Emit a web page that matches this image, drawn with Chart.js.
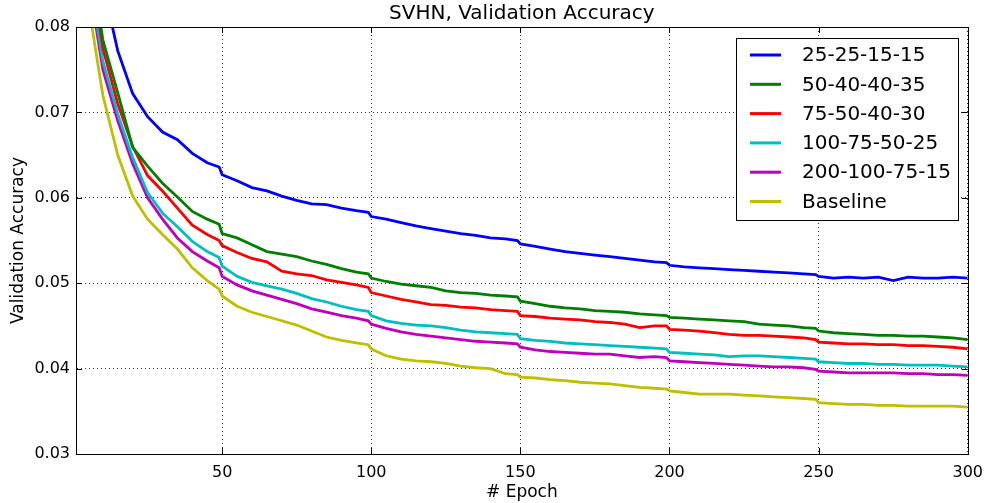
<!DOCTYPE html>
<html>
<head>
<meta charset="utf-8">
<title>SVHN, Validation Accuracy</title>
<script src="https://cdn.jsdelivr.net/npm/chart.js@4.4.0/dist/chart.umd.min.js"></script>
<style>
  html, body { margin: 0; padding: 0; background: #fff; }
  #wrap { width: 992px; height: 503px; }
</style>
</head>
<body>
<div id="wrap"><canvas id="chart" width="992" height="503"></canvas></div>
<script>
// epochs (extra point just before each lr drop)
var epochs = [2,5,10,15,20,25,30,35,40,45,49,50,55,60,65,70,75,80,85,90,95,99,100,
  105,110,115,120,125,130,135,140,145,149,150,155,160,165,170,175,180,185,190,195,199,200,
  205,210,215,220,225,230,235,240,245,249,250,255,260,265,270,275,280,285,290,295,300];

var labels = ['25-25-15-15', '50-40-40-35', '75-50-40-30', '100-75-50-25', '200-100-75-15', 'Baseline'];
var colors = ['#0000ff', '#008000', '#ff0000', '#00bfbf', '#bf00bf', '#bfbf00'];

var acc_25 = [0.115,0.098,0.085,0.0772,0.0722,0.0695,0.0677,0.0668,0.0652,0.0641,0.0636,0.0627,0.0620,0.0612,0.0608,0.0602,0.0597,0.0593,0.0592,0.0588,0.0585,0.0583,0.0578,
  0.0575,0.0571,0.0567,0.0564,0.0561,0.0558,0.0556,0.0553,0.0552,0.0550,0.0546,0.0543,0.0540,0.0537,0.0535,0.0533,0.0531,0.0529,0.0527,0.0525,0.0524,0.0521,
  0.0519,0.0518,0.0517,0.0516,0.0515,0.0514,0.0513,0.0512,0.0511,0.0510,0.0508,0.0506,0.0507,0.0506,0.0507,0.0503,0.0507,0.0506,0.0506,0.0507,0.0506];
var acc_50 = [0.105,0.090,0.0785,0.0723,0.0659,0.0637,0.0617,0.0601,0.0584,0.0575,0.0569,0.0558,0.0553,0.0545,0.0537,0.0534,0.0531,0.0526,0.0522,0.0517,0.0513,0.0511,0.0506,
  0.0502,0.0499,0.0497,0.0495,0.0491,0.0489,0.0488,0.0486,0.0485,0.0484,0.0479,0.0476,0.0473,0.0471,0.0470,0.0468,0.0467,0.0466,0.0464,0.0463,0.0462,0.0460,
  0.0459,0.0458,0.0457,0.0456,0.0455,0.0452,0.0451,0.0450,0.0448,0.0447,0.0444,0.0442,0.0441,0.0440,0.0439,0.0439,0.0438,0.0438,0.0437,0.0436,0.0434];
var acc_75 = [0.103,0.089,0.0775,0.0710,0.0660,0.0626,0.0608,0.0588,0.0568,0.0557,0.0550,0.0544,0.0536,0.0529,0.0525,0.0514,0.0511,0.0509,0.0504,0.0501,0.0498,0.0495,0.0489,
  0.0485,0.0481,0.0478,0.0475,0.0474,0.0472,0.0471,0.0469,0.0468,0.0467,0.0462,0.0461,0.0459,0.0458,0.0457,0.0455,0.0454,0.0452,0.0448,0.0450,0.0450,0.0446,
  0.0445,0.0444,0.0442,0.0440,0.0439,0.0439,0.0438,0.0437,0.0436,0.0434,0.0431,0.0430,0.0429,0.0429,0.0428,0.0428,0.0427,0.0427,0.0426,0.0425,0.0423];
var acc_100 = [0.100,0.087,0.0760,0.0698,0.0647,0.0606,0.0582,0.0566,0.0549,0.0537,0.0530,0.0520,0.0508,0.0501,0.0497,0.0493,0.0488,0.0482,0.0478,0.0473,0.0469,0.0467,0.0462,
  0.0456,0.0453,0.0451,0.0450,0.0448,0.0445,0.0443,0.0442,0.0441,0.0440,0.0435,0.0433,0.0432,0.0430,0.0429,0.0428,0.0427,0.0426,0.0425,0.0424,0.0423,0.0419,
  0.0418,0.0417,0.0416,0.0414,0.0415,0.0415,0.0414,0.0413,0.0412,0.0411,0.0408,0.0407,0.0406,0.0406,0.0405,0.0405,0.0404,0.0404,0.0404,0.0403,0.0402];
var acc_200 = [0.098,0.086,0.0750,0.0690,0.0640,0.0600,0.0575,0.0553,0.0537,0.0526,0.0518,0.0508,0.0498,0.0491,0.0486,0.0481,0.0476,0.0470,0.0466,0.0462,0.0459,0.0456,0.0452,
  0.0447,0.0443,0.0440,0.0438,0.0436,0.0434,0.0432,0.0431,0.0430,0.0429,0.0425,0.0422,0.0420,0.0419,0.0418,0.0417,0.0417,0.0415,0.0413,0.0414,0.0413,0.0409,
  0.0408,0.0407,0.0406,0.0405,0.0404,0.0403,0.0402,0.0402,0.0401,0.0399,0.0397,0.0396,0.0395,0.0395,0.0395,0.0395,0.0394,0.0394,0.0393,0.0393,0.0392];
var acc_base = [0.093,0.083,0.0720,0.0650,0.0602,0.0575,0.0557,0.0540,0.0518,0.0503,0.0493,0.0485,0.0473,0.0466,0.0461,0.0456,0.0451,0.0444,0.0437,0.0433,0.0430,0.0428,0.0423,
  0.0415,0.0411,0.0409,0.0408,0.0406,0.0403,0.0401,0.0400,0.0394,0.0393,0.0390,0.0389,0.0387,0.0386,0.0384,0.0383,0.0382,0.0380,0.0378,0.0377,0.0376,0.0374,
  0.0372,0.0370,0.0370,0.0370,0.0369,0.0368,0.0367,0.0366,0.0365,0.0364,0.0360,0.0359,0.0358,0.0358,0.0357,0.0357,0.0356,0.0356,0.0356,0.0356,0.0355];

var xTicks = [50, 100, 150, 200, 250, 300];
var yTicks = [0.03, 0.04, 0.05, 0.06, 0.07, 0.08];

var series = [acc_25, acc_50, acc_75, acc_100, acc_200, acc_base];
var FONT = "'DejaVu Sans', sans-serif";

//matplotlib風の枠・内向きの目盛り・凡例
var framePlugin = {
  id: 'frame',
  afterDatasetsDraw: function(chart) {
    var ctx = chart.ctx, a = chart.chartArea;
    var xs = chart.scales.x, ys = chart.scales.y;
    ctx.save();
    ctx.strokeStyle = '#000';
    ctx.lineWidth = 1;
    ctx.beginPath();
    xTicks.forEach(function(v) {
      var px = Math.round(xs.getPixelForValue(v)) + 0.5;
      ctx.moveTo(px, a.bottom); ctx.lineTo(px, a.bottom - 6);
      ctx.moveTo(px, a.top); ctx.lineTo(px, a.top + 6);
    });
    yTicks.forEach(function(v) {
      var py = Math.round(ys.getPixelForValue(v)) + 0.5;
      ctx.moveTo(a.left, py); ctx.lineTo(a.left + 6, py);
      ctx.moveTo(a.right, py); ctx.lineTo(a.right - 6, py);
    });
    ctx.stroke();
    ctx.strokeRect(Math.round(a.left) + 0.5, Math.round(a.top) + 0.5,
      Math.round(a.right - a.left), Math.round(a.bottom - a.top));

    // legend
    var bx = 736.5, by = 38.5, bw = 222, bh = 182;
    ctx.fillStyle = '#fff';
    ctx.fillRect(bx, by, bw, bh);
    ctx.strokeRect(bx, by, bw, bh);
    ctx.font = '20px ' + FONT;
    ctx.textBaseline = 'middle';
    chart.data.datasets.forEach(function(ds, i) {
      var y = 55 + i * 29.3;
      ctx.strokeStyle = ds.borderColor;
      ctx.lineWidth = 3;
      ctx.beginPath();
      ctx.moveTo(750, y); ctx.lineTo(781, y);
      ctx.stroke();
      ctx.fillStyle = '#000';
      ctx.fillText(ds.label, 802, y + 1);
    });
    ctx.restore();
  }
};

var ctx = document.getElementById('chart');
var chart = new Chart(ctx, {
  type: 'line',
  data: {
    datasets: series.map(function(s, i) {
      return {
        label: labels[i],
        data: epochs.map(function(e, j) { return {x: e, y: s[j]}; }),
        borderColor: colors[i],
        borderWidth: 2.8,
        pointRadius: 0,
        fill: false,
        tension: 0
      };
    })
  },
  options: {
    responsive: false,
    animation: false,
    layout: { padding: { left: 0, right: 23, top: 0, bottom: 0 } },
    plugins: {
      legend: { display: false },
      tooltip: { enabled: false },
      title: {
        display: true,
        fullSize: false,
        text: 'SVHN, Validation Accuracy',
        color: '#000',
        font: { family: FONT, size: 20, weight: 'normal' },
        padding: { top: 1.5, bottom: 1.5 }
      }
    },
    scales: {
      x: {
        type: 'linear',
        min: 1,
        max: 300,
        afterBuildTicks: function(scale) {
          scale.ticks = xTicks.map(function(v) { return {value: v}; });
        },
        afterFit: function(scale) { scale.height = 49; },
        grid: { color: '#333', lineWidth: 1, drawTicks: false },
        border: { display: true, color: '#000', width: 1, dash: [1, 3] },
        ticks: {
          color: '#000', padding: 9, maxRotation: 0, autoSkip: false,
          font: { family: FONT, size: 16 }
        },
        title: {
          display: true, text: '# Epoch', color: '#000',
          font: { family: FONT, size: 17 },
          padding: { top: 0, bottom: 0.5 }
        }
      },
      y: {
        min: 0.03,
        max: 0.08,
        afterBuildTicks: function(scale) {
          scale.ticks = yTicks.map(function(v) { return {value: v}; });
        },
        afterFit: function(scale) { scale.width = 76; },
        grid: { color: '#333', lineWidth: 1, drawTicks: false },
        border: { display: true, color: '#000', width: 1, dash: [1, 3] },
        ticks: {
          color: '#000', padding: 6,
          font: { family: FONT, size: 16 },
          callback: function(v) { return Number(v).toFixed(2); }
        },
        title: {
          display: true, text: 'Validation Accuracy', color: '#000',
          font: { family: FONT, size: 17 },
          padding: { top: 8.5, bottom: 0 }
        }
      }
    }
  },
  plugins: [framePlugin]
});
</script>
</body>
</html>
